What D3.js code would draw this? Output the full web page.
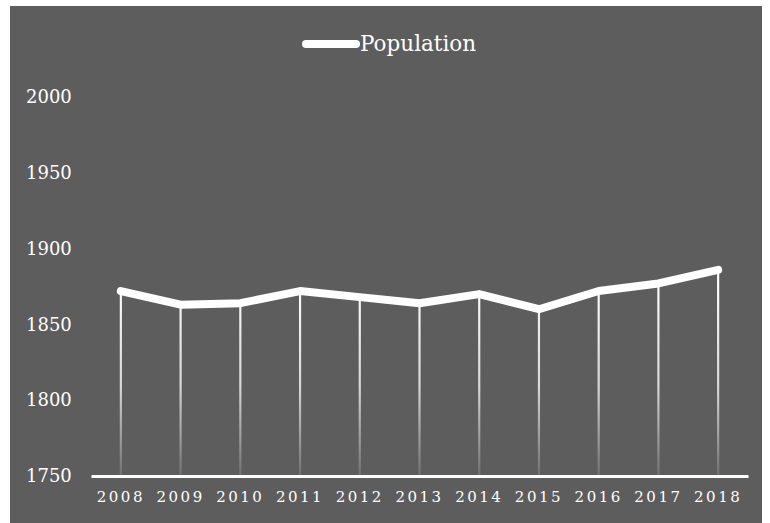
<!DOCTYPE html>
<html>
<head>
<meta charset="utf-8">
<script src="https://cdn.jsdelivr.net/npm/d3@7"></script>
<style>
  html, body { margin: 0; padding: 0; background: #ffffff; }
  svg { display: block; }
</style>
</head>
<body>
<svg id="chart" width="770" height="523"></svg>
<script>
// Yearly population figures
const years = ["2008", "2009", "2010", "2011", "2012", "2013", "2014", "2015", "2016", "2017", "2018"];
const population = [1872, 1863, 1864, 1872, 1868, 1864, 1870, 1860, 1872, 1877, 1886];
const yTicks = [1750, 1800, 1850, 1900, 1950, 2000];
const seriesName = "Population";

const W = 770, H = 523;
const margin = { left: 91, right: 22, top: 97, bottom: 47 };
const fontFamily = "'DejaVu Serif', serif";

const svg = d3.select("#chart");

// panel background
svg.append("rect")
  .attr("x", 10).attr("y", 6)
  .attr("width", 752).attr("height", H - 6)
  .attr("fill", "#5d5d5d");

const x = d3.scaleBand()
  .domain(years)
  .range([margin.left, W - margin.right])
  .padding(0);

const y = d3.scaleLinear()
  .domain([1750, 2000])
  .range([H - margin.bottom, margin.top]);

// gradient for drop lines: white at the point, fading toward the axis
const defs = svg.append("defs");
const grad = defs.append("linearGradient")
  .attr("id", "dropFade")
  .attr("gradientUnits", "userSpaceOnUse")
  .attr("x1", 0).attr("x2", 0)
  .attr("y1", y(1880)).attr("y2", y(1750));
grad.append("stop").attr("offset", "0%").attr("stop-color", "#ffffff").attr("stop-opacity", 1);
grad.append("stop").attr("offset", "55%").attr("stop-color", "#ffffff").attr("stop-opacity", 0.75);
grad.append("stop").attr("offset", "100%").attr("stop-color", "#ffffff").attr("stop-opacity", 0.12);

const data = years.map((yr, i) => ({ year: yr, value: population[i] }));
const cx = d => x(d.year) + x.bandwidth() / 2;

// drop lines
svg.append("g")
  .selectAll("line")
  .data(data)
  .join("line")
  .attr("x1", cx).attr("x2", cx)
  .attr("y1", d => y(d.value))
  .attr("y2", y(1750))
  .attr("stroke", "url(#dropFade)")
  .attr("stroke-width", 2.2);

// y axis labels (no line, no ticks)
const yAxis = svg.append("g")
  .attr("transform", `translate(${margin.left},0)`)
  .call(d3.axisLeft(y).tickValues(yTicks).tickSize(0).tickPadding(20).tickFormat(d3.format("d")));
yAxis.select(".domain").remove();
yAxis.selectAll("text")
  .attr("x", -65)
  .attr("text-anchor", "start")
  .attr("fill", "#ffffff")
  .style("font-family", fontFamily)
  .style("font-size", "18px");

// x axis
const xAxis = svg.append("g")
  .attr("transform", `translate(0,${y(1750)})`)
  .call(d3.axisBottom(x).tickSize(0).tickPadding(15));
xAxis.select(".domain")
  .attr("stroke", "#ffffff")
  .attr("stroke-width", 3);
xAxis.selectAll("text")
  .attr("fill", "#ffffff")
  .style("font-family", fontFamily)
  .style("font-size", "15px")
  .style("letter-spacing", "2.5px");

// population line
const line = d3.line()
  .x(cx)
  .y(d => y(d.value));

svg.append("path")
  .datum(data)
  .attr("d", line)
  .attr("fill", "none")
  .attr("stroke", "#ffffff")
  .attr("stroke-width", 8)
  .attr("stroke-linejoin", "round")
  .attr("stroke-linecap", "round");

// legend
const legend = svg.append("g").attr("transform", "translate(306,44)");
legend.append("line")
  .attr("x1", 0).attr("x2", 50)
  .attr("y1", 0).attr("y2", 0)
  .attr("stroke", "#ffffff")
  .attr("stroke-width", 8)
  .attr("stroke-linecap", "round");
legend.append("text")
  .attr("x", 54).attr("y", 7)
  .attr("fill", "#ffffff")
  .style("font-family", fontFamily)
  .style("font-size", "21.5px")
  .text(seriesName);
</script>
</body>
</html>
